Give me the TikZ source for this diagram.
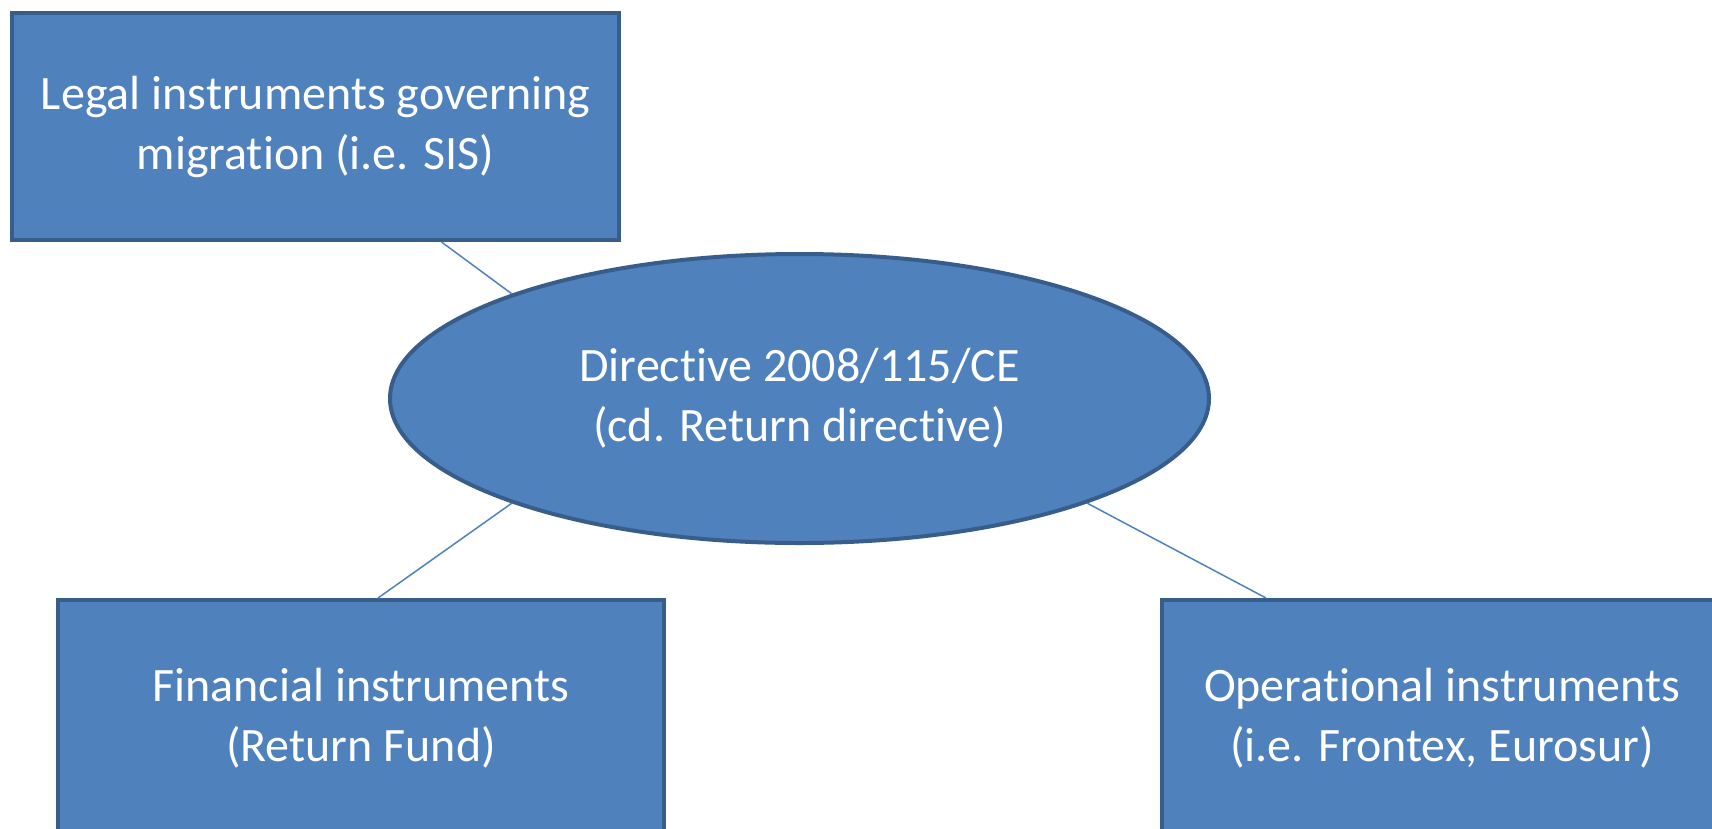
\documentclass[tikz,border=0pt]{standalone}
\usepackage{fontspec}
\setmainfont{Carlito}[Ligatures=NoCommon]
\usetikzlibrary{shapes.geometric}
\definecolor{boxblue}{HTML}{4F81BD}
\definecolor{boxedge}{HTML}{385D8A}

\begin{document}
\begin{tikzpicture}[
  x=1pt, y=-1pt,
  every node/.style={font=\fontsize{48}{60}\selectfont, text=white, align=center},
  instbox/.style  = {rectangle, draw=boxedge, fill=boxblue, line width=4pt, inner sep=0pt},
  dirshape/.style = {ellipse, draw=boxedge, fill=boxblue, line width=4pt, inner sep=0pt},
  link/.style     = {draw=boxblue, line width=1.5pt}
]
\useasboundingbox (0,0) rectangle (1712,828);
\clip (0,0) rectangle (1712,828);

%% instruments round the directive
\node[instbox, minimum width=607pt, minimum height=227pt] (legal) at (315.5,126.5)
  {Legal instruments governing\\migration (i.e. SIS)};
\node[dirshape, minimum width=819pt, minimum height=289pt] (dir) at (799.5,398.5)
  {Directive 2008/115/CE\\(cd. Return directive)};
\node[instbox, minimum width=606pt, minimum height=236pt] (fin) at (361,718)
  {Financial instruments\\(Return Fund)};
\node[instbox, minimum width=560pt, minimum height=236pt] (oper) at (1442,718)
  {Operational instruments\\(i.e. Frontex, Eurosur)};

%% links
\draw[link] ([xshift=126pt]legal.south) -- (dir.160);
\draw[link] (dir.200) -- ([xshift=17pt]fin.north);
\draw[link] (dir.340) -- ([xshift=-176pt]oper.north);
\end{tikzpicture}
\end{document}
